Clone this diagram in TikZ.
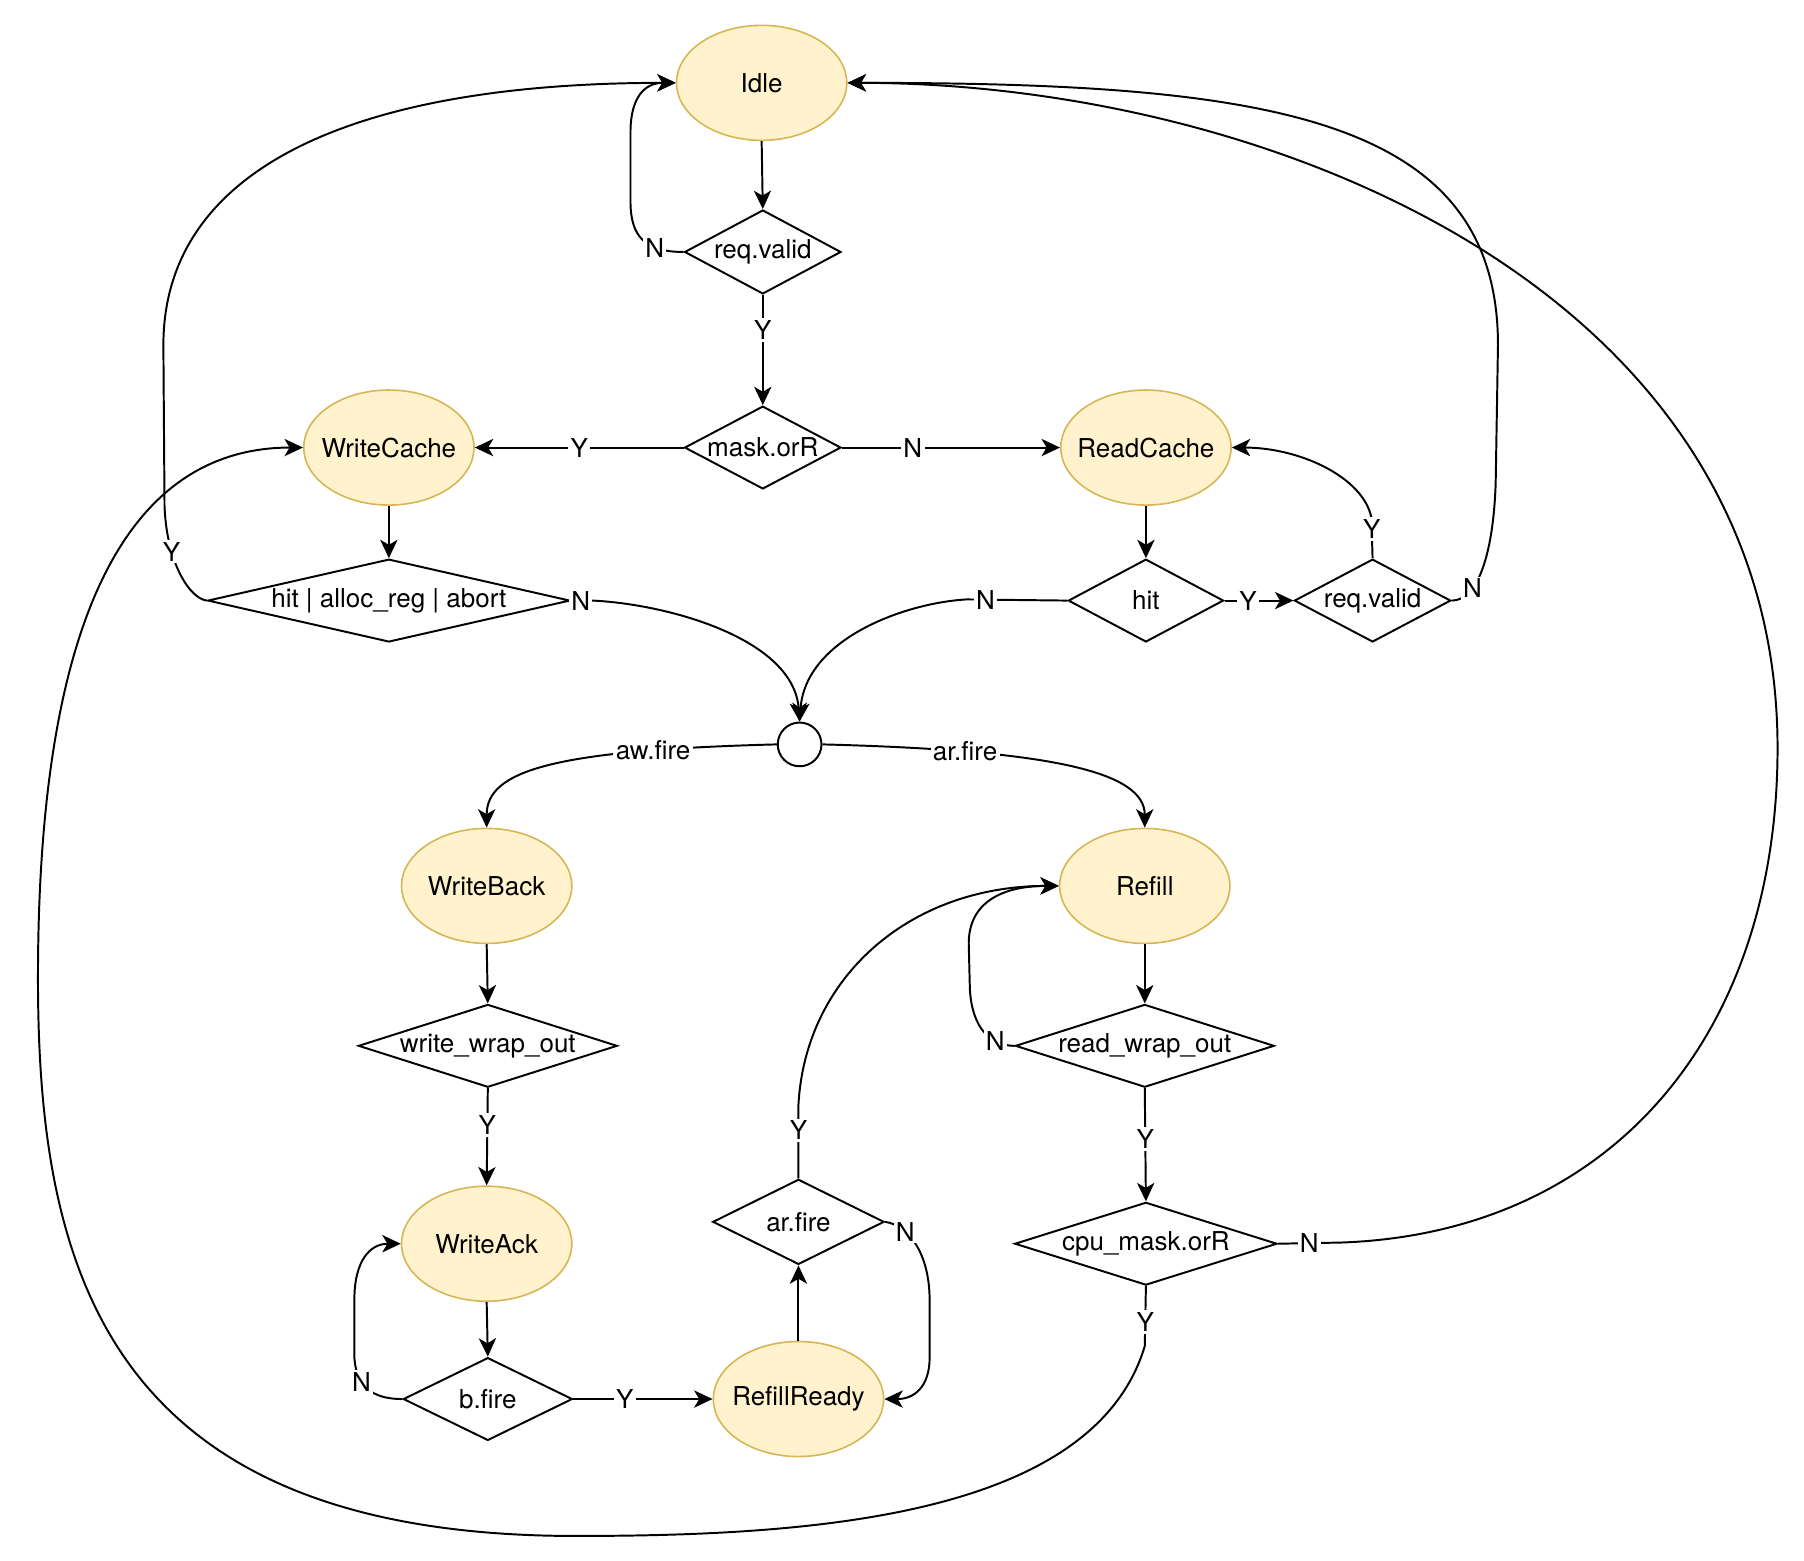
\documentclass[tikz,border=0pt]{standalone}
\usepackage{fontspec}
\setmainfont{TeX Gyre Heros}
\usetikzlibrary{shapes.geometric, arrows.meta}
\definecolor{stfill}{HTML}{FFF2CC}
\definecolor{stdraw}{HTML}{D6B656}
\newcommand{\zb}[1]{\makebox[0pt]{#1}}
\begin{document}
\begin{tikzpicture}[x=0.5pt, y=-0.5pt,
  font=\fontsize{11.3pt}{13.5pt}\selectfont,
  state/.style={ellipse, draw=stdraw, fill=stfill, line width=0.7pt, minimum width=74pt, minimum height=50pt, inner sep=0pt},
  cond/.style={diamond, draw=black, line width=0.85pt, fill=white, inner sep=0pt},
  conn/.style={line width=0.85pt, -{Stealth[length=8pt,width=7.5pt,inset=2.2pt]}},
  lbl/.style={fill=white, inner sep=1pt},
]
\useasboundingbox (0,0) rectangle (1568,1356);

% nodes
\node[state] (idle) at (662,72) {\zb{Idle}};
\node[cond, minimum width=68pt, minimum height=36.5pt] (rv1) at (663,219) {\zb{req.valid}};
\node[cond, minimum width=68pt, minimum height=36pt] (mask) at (663,389) {\zb{mask.orR}};
\node[state] (wc) at (338,389) {\zb{WriteCache}};
\node[state] (rc) at (996,389) {\zb{ReadCache}};
\node[cond, minimum width=157.5pt, minimum height=36pt] (hita) at (338,522) {\zb{hit | alloc\_reg | abort}};
\node[cond, minimum width=67.5pt, minimum height=36pt] (hit) at (996,522) {\zb{hit}};
\node[cond, minimum width=68pt, minimum height=36pt] (rv2) at (1193,522) {\zb{req.valid}};
\node[circle, draw, line width=0.85pt, fill=white, minimum size=19pt, inner sep=0pt] (jn) at (695,647) {};
\node[state] (wb) at (423,770) {\zb{WriteBack}};
\node[state] (rf) at (995,770) {\zb{Refill}};
\node[cond, minimum width=112.5pt, minimum height=36pt] (wwo) at (424,909) {\zb{write\_wrap\_out}};
\node[cond, minimum width=112.5pt, minimum height=36pt] (rwo) at (995,909) {\zb{read\_wrap\_out}};
\node[state] (wa) at (423,1081) {\zb{WriteAck}};
\node[cond, minimum width=74.5pt, minimum height=37pt] (arf) at (694,1062) {\zb{ar.fire}};
\node[cond, minimum width=114pt, minimum height=36pt] (cpu) at (996,1081) {\zb{cpu\_mask.orR}};
\node[cond, minimum width=73.5pt, minimum height=36pt] (bf) at (424,1216) {\zb{b.fire}};
\node[state] (rr) at (694,1216) {\zb{RefillReady}};

% edges
\draw[conn] (idle.south) -- (rv1.north);
\draw[conn] (rv1.south) -- node[lbl, pos=0.32]{Y} (mask.north);
\draw[conn] (rv1.west) .. controls (560,219) and (548,205) .. (548,175) node[lbl, pos=0.3]{N}
  -- (548,115) .. controls (548,85) and (560,72) .. (idle.west);
\draw[conn] (mask.west) -- node[lbl, pos=0.5]{Y} (wc.east);
\draw[conn] (mask.east) -- node[lbl, pos=0.325]{N} (rc.west);
\draw[conn] (wc.south) -- (hita.north);
\draw[conn] (rc.south) -- (hit.north);
\draw[conn] (hita.west) .. controls (165,520) and (145,490) .. (143,440) node[lbl, pos=0.7]{Y}
  -- (142,300) .. controls (142,150) and (300,72) .. (idle.west);
\draw[conn] (hita.east) -- (515,522) node[lbl, pos=0.45]{N}
  .. controls (580,525) and (690,555) .. (jn.north);
\draw[conn] (hit.west) -- (840,521) node[lbl, pos=0.81]{N}
  .. controls (787,524) and (700,555) .. (jn.north);
\draw[conn] (hit.east) -- node[lbl, pos=0.34]{Y} (rv2.west);
\draw[conn] (rv2.north) -- (1192,450) node[lbl, pos=0.72]{Y}
  .. controls (1185,415) and (1130,389) .. (rc.east);
\draw[conn] (rv2.east) .. controls (1285,522) and (1298,480) .. (1300,420) node[lbl, pos=0.3]{N}
  -- (1302,300) .. controls (1302,100) and (1100,72) .. (idle.east);
\draw[conn] (jn.west) .. controls (480,652) and (423,670) .. (wb.north) node[lbl, pos=0.215]{aw.fire};
\draw[conn] (jn.east) .. controls (910,652) and (995,670) .. (rf.north) node[lbl, pos=0.245]{ar.fire};
\draw[conn] (wb.south) -- (wwo.north);
\draw[conn] (wwo.south) -- node[lbl, pos=0.38]{Y} (wa.north);
\draw[conn] (wa.south) -- (bf.north);
\draw[conn] (bf.west) .. controls (330,1216) and (310,1210) .. (308,1180) node[lbl, pos=0.7]{N}
  -- (308,1130) .. controls (308,1095) and (322,1081) .. (wa.west);
\draw[conn] (bf.east) -- node[lbl, pos=0.37]{Y} (rr.west);
\draw[conn] (rr.north) -- (arf.south);
\draw[conn] (arf.north) -- (694,960) node[lbl, pos=0.65]{Y}
  .. controls (700,850) and (790,770) .. (rf.west);
\draw[conn] (arf.east) .. controls (790,1065) and (808,1090) .. (808,1130) node[lbl, pos=0.3]{N}
  -- (808,1180) .. controls (808,1205) and (795,1216) .. (rr.east);
\draw[conn] (rf.south) -- (rwo.north);
\draw[conn] (rwo.west) .. controls (862,909) and (845,895) .. (843,860) node[lbl, pos=0.3]{N}
  -- (842,820) .. controls (842,785) and (870,770) .. (rf.west);
\draw[conn] (rwo.south) -- node[lbl, pos=0.45]{Y} (cpu.north);
\draw[conn] (cpu.east) -- (1165,1080) node[lbl, pos=0.5]{N}
  .. controls (1400,1072) and (1545,900) .. (1545,650)
  .. controls (1545,250) and (1100,72) .. (idle.east);
\draw[conn] (cpu.south) -- (995,1170) node[lbl, pos=0.6]{Y}
  .. controls (950,1320) and (700,1335) .. (500,1335)
  .. controls (90,1335) and (33,1100) .. (33,850)
  .. controls (33,500) and (130,389) .. (wc.west);
\end{tikzpicture}
\end{document}
